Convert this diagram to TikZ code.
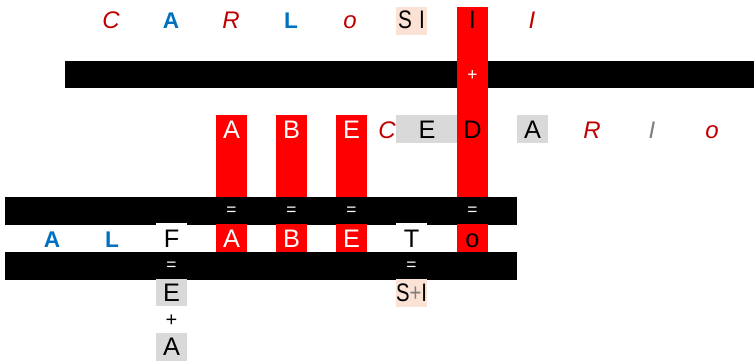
\documentclass[tikz,border=0pt]{standalone}
\usepackage{fontspec}
\setmainfont{Liberation Sans}
\definecolor{dred}{HTML}{C00000}
\definecolor{lblue}{HTML}{0070C0}
\definecolor{rfill}{HTML}{FF0000}
\definecolor{gfill}{HTML}{D9D9D9}
\definecolor{pfill}{HTML}{FBE2D5}
\definecolor{gtxt}{HTML}{7F7F7F}
\tikzset{
  bigtxt/.style={anchor=base,inner sep=0pt,font=\fontsize{19}{19}\selectfont},
  itred/.style={anchor=base,inner sep=0pt,text=dred,font=\fontsize{18}{18}\selectfont\itshape},
  itgray/.style={anchor=base,inner sep=0pt,text=gtxt,font=\fontsize{18}{18}\selectfont\itshape},
  bblue/.style={anchor=base,inner sep=0pt,text=lblue,font=\fontsize{17}{17}\selectfont\bfseries},
  optxt/.style={inner sep=0pt,text=white,font=\fontsize{13}{13}\selectfont},
  plusb/.style={inner sep=0pt,font=\fontsize{15}{15}\selectfont},
}
\begin{document}
\begin{tikzpicture}[x=0.75pt,y=-0.75pt]
\useasboundingbox (0,0) rectangle (754,361);
% top bar and red column
\fill[black] (65,61) rectangle (754,88);
\fill[rfill] (457,7) rectangle (488,197);
\fill[rfill] (216,115) rectangle (247,197);
\fill[rfill] (276,115) rectangle (307,197);
\fill[rfill] (336,115) rectangle (367,197);
\fill[pfill] (396,7) rectangle (427,35);
\fill[gfill] (396,115) rectangle (457,143);
\fill[gfill] (517,115) rectangle (548,143);
% lower bars
\fill[black] (5,197) rectangle (517,225);
\fill[black] (5,252) rectangle (517,280);
\fill[white] (156,223) rectangle (187,252);
\fill[white] (396,223) rectangle (427,252);
\fill[rfill] (216,224) rectangle (247,252);
\fill[rfill] (276,224) rectangle (307,252);
\fill[rfill] (336,224) rectangle (367,252);
\fill[rfill] (457,224) rectangle (488,252);
\fill[gfill] (156,279) rectangle (187,306);
\fill[gfill] (156,333) rectangle (187,361);
\fill[pfill] (396,279) rectangle (427,307);
% top row
\node[itred] (t1) at (111,28) {C};
\node[bblue] (t2) at (171,28) {A};
\node[itred] (t3) at (231,28) {R};
\node[bblue] (t4) at (291,28) {L};
\node[itred] (t5) at (350,28) {o};
\node[bigtxt] (t6) at (411.5,28) {\scalebox{0.82}[1]{S\,\,I}};
\node[bigtxt] (t7) at (472.5,28) {I};
\node[itred] (t8) at (532,28) {I};
\node[optxt] (p1) at (472.5,75) {+};
% second row
\node[bigtxt,text=white] (r1) at (231.5,138) {A};
\node[bigtxt,text=white] (r2) at (291.5,138) {B};
\node[bigtxt,text=white] (r3) at (351.5,138) {E};
\node[itred] (r4) at (387,138) {C};
\node[bigtxt] (r5) at (427,138) {E};
\node[bigtxt] (r6) at (472.5,138) {D};
\node[bigtxt] (r7) at (532.5,138) {A};
\node[itred] (r8) at (592,138) {R};
\node[itgray] (r9) at (652,138) {I};
\node[itred] (r10) at (712,138) {o};
% equals in bar 1
\node[optxt] (e1) at (231.5,211) {=};
\node[optxt] (e2) at (291.5,211) {=};
\node[optxt] (e3) at (351.5,211) {=};
\node[optxt] (e4) at (472.5,211) {=};
% third row
\node[bblue] (s1) at (52,247) {A};
\node[bblue] (s2) at (112,247) {L};
\node[bigtxt] (s3) at (171.5,247) {F};
\node[bigtxt,text=white] (s4) at (231.5,247) {A};
\node[bigtxt,text=white] (s5) at (291.5,247) {B};
\node[bigtxt,text=white] (s6) at (351.5,247) {E};
\node[bigtxt] (s7) at (411.5,247) {T};
\node[bigtxt] (s8) at (472.5,247) {o};
% equals in bar 2
\node[optxt] (e5) at (171.5,266) {=};
\node[optxt] (e6) at (411.5,266) {=};
% below
\node[bigtxt] (u1) at (171.5,301) {E};
\node[bigtxt] (u2) at (411.5,301) {\scalebox{0.8}[1]{S{\color{gtxt}+}I}};
\node[plusb] (u3) at (171.5,321) {+};
\node[bigtxt] (u4) at (171.5,355) {A};
\end{tikzpicture}
\end{document}
